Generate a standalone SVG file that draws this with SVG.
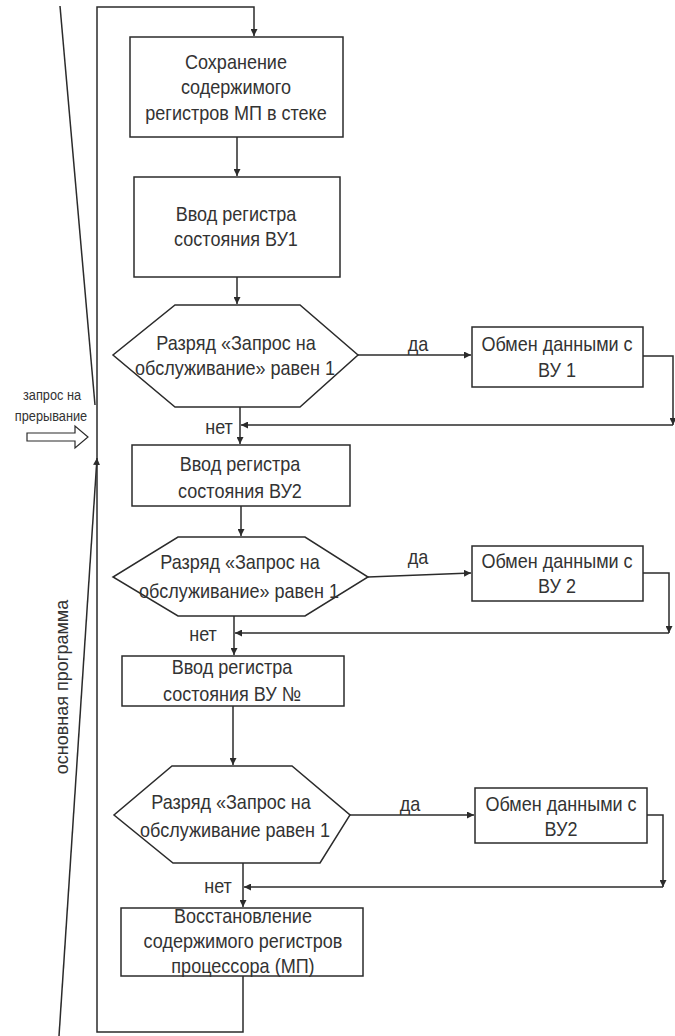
<svg xmlns="http://www.w3.org/2000/svg" width="675" height="1036" viewBox="0 0 675 1036">
<style>
.b{fill:#fff;stroke:#2b2b2b;stroke-width:1.5}
.t,.s{font-family:"Liberation Sans",Arial,sans-serif;fill:#333;text-anchor:middle;transform-box:fill-box;transform-origin:center;transform:scaleX(0.88)}
.t{font-size:20.5px}
.s{font-size:14.5px}
.v{font-family:"Liberation Sans",Arial,sans-serif;font-size:18px;fill:#333;text-anchor:middle}
.c{fill:none;stroke:#2b2b2b;stroke-width:1.5}
</style>
<defs>
<marker id="a" viewBox="0 0 10 10" refX="10" refY="5" markerWidth="7" markerHeight="7" markerUnits="userSpaceOnUse" orient="auto"><path d="M0,0L10,5L0,10z" fill="#2b2b2b"/></marker>
</defs>
<rect width="675" height="1036" fill="#fff"/>
<g id="connectors">
<path class="c" d="M243,976V1032H97V7H254V36" marker-end="url(#a)"/>
<path class="c" d="M237,137V176" marker-end="url(#a)"/>
<path class="c" d="M237,277V304" marker-end="url(#a)"/>
<path class="c" d="M358,355L471,355" marker-end="url(#a)"/>
<path class="c" d="M643,356H673V425" marker-end="url(#a)"/>
<path class="c" d="M673,425H241" marker-end="url(#a)"/>
<path class="c" d="M240,407V444" marker-end="url(#a)"/>
<path class="c" d="M241,506V536" marker-end="url(#a)"/>
<path class="c" d="M368,577L471,573" marker-end="url(#a)"/>
<path class="c" d="M643,573H669V633" marker-end="url(#a)"/>
<path class="c" d="M669,633H235" marker-end="url(#a)"/>
<path class="c" d="M234,616V655" marker-end="url(#a)"/>
<path class="c" d="M233,706V765" marker-end="url(#a)"/>
<path class="c" d="M350,815H474" marker-end="url(#a)"/>
<path class="c" d="M647,815H663V887" marker-end="url(#a)"/>
<path class="c" d="M663,887H244" marker-end="url(#a)"/>
<path class="c" d="M243,863V907" marker-end="url(#a)"/>
<path class="c" d="M60,6L95,405"/>
<path class="c" d="M59,1036L97,458" marker-end="url(#a)"/>
</g>
<g id="n1"><rect class="b" x="130" y="37" width="213" height="100"/>
<text class="t" x="236" y="69">Сохранение</text><text class="t" x="236" y="94">содержимого</text><text class="t" x="236" y="120">регистров МП в стеке</text></g>
<g id="n2"><rect class="b" x="134" y="177" width="206" height="100"/>
<text class="t" x="236" y="221">Ввод регистра</text><text class="t" x="236" y="246">состояния ВУ1</text></g>
<g id="n3"><polygon class="b" points="175,305 300,305 358,355 300,407 175,407 113,355"/>
<text class="t" x="236" y="350">Разряд «Запрос  на</text><text class="t" x="235" y="375">обслуживание» равен 1</text></g>
<g id="n4"><rect class="b" x="472" y="327" width="171" height="60"/>
<text class="t" x="557" y="351">Обмен данными с</text><text class="t" x="557" y="377">ВУ 1</text></g>
<g id="n5"><rect class="b" x="132" y="445" width="218" height="61"/>
<text class="t" x="240" y="471">Ввод регистра</text><text class="t" x="240" y="498">состояния ВУ2</text></g>
<g id="n6"><polygon class="b" points="178,537 305,537 368,577 305,616 178,616 113,577"/>
<text class="t" x="240" y="569">Разряд «Запрос на</text><text class="t" x="239" y="598">обслуживание» равен 1</text></g>
<g id="n7"><rect class="b" x="472" y="546" width="171" height="55"/>
<text class="t" x="557" y="568">Обмен данными с</text><text class="t" x="557" y="593">ВУ 2</text></g>
<g id="n8"><rect class="b" x="122" y="656" width="222" height="50"/>
<text class="t" x="232" y="674">Ввод регистра</text><text class="t" x="232" y="701">состояния ВУ №</text></g>
<g id="n9"><polygon class="b" points="172,766 292,766 350,815 320,863 173,863 114,815"/>
<text class="t" x="231" y="809">Разряд «Запрос на</text><text class="t" x="235" y="837">обслуживание равен 1</text></g>
<g id="n10"><rect class="b" x="475" y="788" width="172" height="55"/>
<text class="t" x="561" y="811">Обмен данными с</text><text class="t" x="561" y="836">ВУ2</text></g>
<g id="n11"><rect class="b" x="121" y="908" width="242" height="68"/>
<text class="t" x="243" y="923">Восстановление</text><text class="t" x="243" y="948">содержимого регистров</text><text class="t" x="243" y="973">процессора (МП)</text></g>
<g id="labels">
<text class="t" x="418" y="351">да</text>
<text class="t" x="418" y="564">да</text>
<text class="t" x="410" y="811">да</text>
<text class="t" x="219" y="434">нет</text>
<text class="t" x="203" y="641">нет</text>
<text class="t" x="218" y="893">нет</text>
<text class="s" x="52" y="400">запрос на</text>
<text class="s" x="51" y="421">прерывание</text>
<text class="v" transform="translate(68,687) rotate(-90)">основная программа</text>
</g>
<g id="interrupt-arrow"><path class="b" d="M27,433H75V426L88,437L75,448V441H27Z" style="stroke-width:1.2"/></g>
</svg>
